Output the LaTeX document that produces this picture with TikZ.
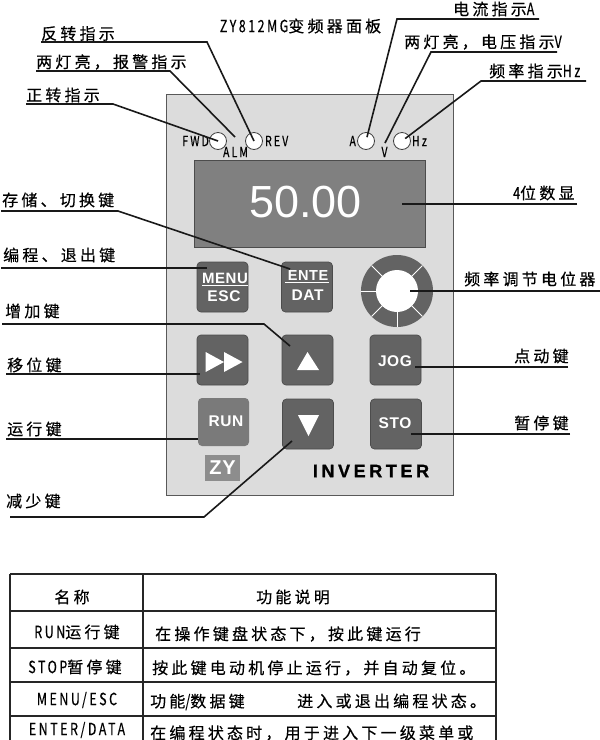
\documentclass[tikz,border=0pt]{standalone}
\usepackage{fontspec}
\usepackage{tikz-cd}
\usetikzlibrary{positioning}
\setmainfont{Liberation Sans}
\newfontfamily\cjk[LetterSpace=20,FakeBold=0.4]{Noto Sans CJK SC}
\newfontfamily\keyfont[LetterSpace=4]{Liberation Sans}
\newfontfamily\brandfont[LetterSpace=20,FakeBold=1]{Liberation Sans}
\newcommand{\latn}[1]{\scalebox{.78}[1.05]{#1}}
\definecolor{panelgray}{HTML}{DCDCDC}
\definecolor{screengray}{HTML}{808080}
\definecolor{keygray}{HTML}{636363}
\tikzset{
	lbl/.style={inner sep=0,anchor=west,text=black,font=\fontsize{16}{16}\cjk},
	small/.style={inner sep=0,text=black,font=\fontsize{13.5}{14}\cjk},
	cell/.style={inner sep=0,text=black,font=\fontsize{16}{16}\cjk},
	leader/.style={line width=1.6pt,black!90},
	lamp/.style={circle,draw=black!75,fill=white,line width=.8pt,minimum size=17pt,inner sep=0},
	keybox/.style={rectangle,draw=black!70,fill=keygray,rounded corners=4pt,line width=.7pt,
		minimum width=51pt,minimum height=50pt,inner sep=0,text=white},
	keytext/.style={inner sep=0,text=white,font=\fontsize{15.5}{16}\bfseries\keyfont},
	tbl/.style={line width=1.6pt,black!85}
}
\begin{document}
\begin{tikzpicture}[x=1pt,y=-1pt]
	\useasboundingbox (0,0) rectangle (600,740);

	\node[cell] (title) at (300.5,26) {\latn{ZY812MG}变频器面板};

	% panel
	\draw[fill=panelgray,draw=black!65,line width=.8pt] (166.5,94) rectangle (453.5,495);
	\draw[fill=screengray,draw=black!70,line width=.8pt] (194,160.5) rectangle (425,247);
	\node[text=white,inner sep=0,font=\fontsize{45}{45}\selectfont] (value) at (305.5,202) {50.00};

	% lamps
	\foreach \nm/\x in {fwd/218,rev/254,amp/366,hz/402}
		\node[lamp] (\nm) at (\x,141) {};
	\node[small,left=0pt of fwd] (fwdT) {\latn{FWD}};
	\node[small,right=2pt of rev] (revT) {\latn{REV}};
	\node[small,left=1pt of amp] (ampT) {\latn{A}};
	\node[small,right=1pt of hz] (hzT) {\latn{Hz}};
	\node[small] (almT) at (235.5,152) {\latn{ALM}};
	\node[small] (voltT) at (384.5,152) {\latn{V}};

	% keys
	\node[keybox] (menu) at (222.5,287) {};
	\node[keybox] (ente) at (307,287) {};
	\node[keybox] (shift) at (222.5,360) {};
	\node[keybox] (up) at (307.5,360) {};
	\node[keybox] (jog) at (395.5,360) {};
	\node[keybox,fill=keygray!85,draw=none,minimum height=48pt] (run) at (223.5,422) {};
	\node[keybox] (down) at (308,424) {};
	\node[keybox] (sto) at (396,424) {};

	\node[keytext] (jogT) at (395,361) {JOG};
	\node[keytext] (runT) at (226,421) {RUN};
	\node[keytext] (stoT) at (395,423) {STO};
	\node[keytext,font=\fontsize{15}{16}\bfseries\keyfont] (menuA) at (225,278) {MENU};
	\node[keytext] (menuB) at (224,296) {ESC};
	\node[keytext,font=\fontsize{14.5}{16}\bfseries\keyfont] (enteA) at (308,276) {ENTE};
	\node[keytext] (enteB) at (307.5,295) {DAT};
	\draw[white,line width=1pt] (202,285) -- (248,285);
	\draw[white,line width=1pt] (285,282) -- (329,282);

	\fill[white] (205.6,352) -- (205.6,372) -- (224,362) -- cycle;
	\fill[white] (224,352) -- (224,372) -- (242.5,362) -- cycle;
	\fill[white] (307.5,352) -- (319,370) -- (297,370) -- cycle;
	\fill[white] (298,415) -- (319,415) -- (308.5,436) -- cycle;

	% knob
	\fill[keygray] (397,291) circle(36);
	\foreach \a in {0,45,90,135,180,225,315}
		\draw[white,line width=.8pt] (397,291) -- ++(\a:36);
	\node[circle,fill=white,minimum size=42pt,inner sep=0] (knob) at (397,291) {};

	\node[inner sep=0,fill=screengray!90,minimum width=35pt,minimum height=26pt,text=white,
		font=\fontsize{20}{20}\bfseries\keyfont] (logo) at (222.5,468) {ZY};
	\node[inner sep=0,font=\fontsize{18}{18}\bfseries\brandfont] (brand) at (371,471) {INVERTER};

	% left labels
	\node[lbl] (tRev) at (41,33.5) {反转指示};
	\node[lbl] (tAlm) at (36,62) {两灯亮，报警指示};
	\node[lbl] (tFwd) at (26,95) {正转指示};
	\node[lbl] (tSave) at (2,200) {存储、切换键};
	\node[lbl] (tMenu) at (3,255) {编程、退出键};
	\node[lbl] (tUp) at (5,311) {增加键};
	\node[lbl] (tShift) at (7,365) {移位键};
	\node[lbl] (tRun) at (7,429) {运行键};
	\node[lbl] (tDown) at (6,501) {减少键};

	% right labels
	\node[lbl] (tAmp) at (453,9) {电流指示\latn{A}};
	\node[lbl] (tVolt) at (404,42) {两灯亮，电压指示\latn{V}};
	\node[lbl] (tHz) at (489,71) {频率指示\latn{Hz}};
	\node[lbl] (tDisp) at (513,193) {\latn{4}位数显};
	\node[lbl] (tKnob) at (464,279) {频率调节电位器};
	\node[lbl] (tJog) at (514,356) {点动键};
	\node[lbl] (tSto) at (514,423) {暂停键};

	% leaders
	\coordinate (almEnd) at (235,137);
	\coordinate (voltEnd) at (385,143);
	\coordinate (dispEnd) at (402,204);
	\coordinate (menuEnd) at (207,268);
	\coordinate (shiftEnd) at (200,374);
	\coordinate (runEnd) at (198,439);
	\coordinate (enteEnd) at (290,269);
	\coordinate (upEnd) at (290,346);
	\coordinate (downEnd) at (292,441);
	\coordinate (knobEnd) at (410,291);
	\coordinate (jogEnd) at (415,367);
	\coordinate (stoEnd) at (411,434);
	\draw[leader] (41,42) -- (207,42) -- (rev.center);
	\draw[leader] (36,71) -- (170,71) -- (almEnd);
	\draw[leader] (26,104) -- (113,104) -- (fwd.center);
	\draw[leader] (1,211) -- (118,211) -- (enteEnd);
	\draw[leader] (1,268) -- (menuEnd);
	\draw[leader] (2,324) -- (264,324) -- (upEnd);
	\draw[leader] (6,374) -- (shiftEnd);
	\draw[leader] (6,439) -- (runEnd);
	\draw[leader] (10,517) -- (204,517) -- (downEnd);
	\draw[leader,shorten >=4pt] (539,19) -- (397,19) -- (amp.center);
	\draw[leader] (557,52) -- (431,52) -- (voltEnd);
	\draw[leader,shorten >=4pt] (586,81) -- (481,81) -- (hz.center);
	\draw[leader] (577,204) -- (dispEnd);
	\draw[leader] (600,291) -- (knobEnd);
	\draw[leader] (568,367) -- (jogEnd);
	\draw[leader] (570,434) -- (stoEnd);

	% table
	\draw[tbl] (10,574) -- (496,574);
	\foreach \y in {611,648,682,716}
		\draw[tbl] (10,\y) -- (496,\y);
	\foreach \x in {10,143,496}
		\draw[tbl] (\x,574) -- (\x,740);

	\node[cell] (hName) at (72,597) {名称};
	\node[cell] (hFunc) at (293,597) {功能说明};
	\node[cell] (nRun) at (77,632) {\latn{RUN}运行键};
	\node[cell] (nStop) at (75,667) {\latn{STOP}暂停键};
	\node[cell] (nMenu) at (77,700) {\latn{MENU/ESC}};
	\node[cell] (nEnter) at (77,730) {\latn{ENTER/DATA}};
	\node[lbl] (fRun) at (155,634) {在操作键盘状态下，按此键运行};
	\node[lbl] (fStop) at (152,668) {按此键电动机停止运行，并自动复位。};
	\node[lbl] (fMenuA) at (150,702) {功能\latn{/}数据键};
	\node[lbl] (fMenuB) at (297,701) {进入或退出编程状态。};
	\node[lbl] (fEnter) at (150,733) {在编程状态时，用于进入下一级菜单或};
\end{tikzpicture}
\end{document}
